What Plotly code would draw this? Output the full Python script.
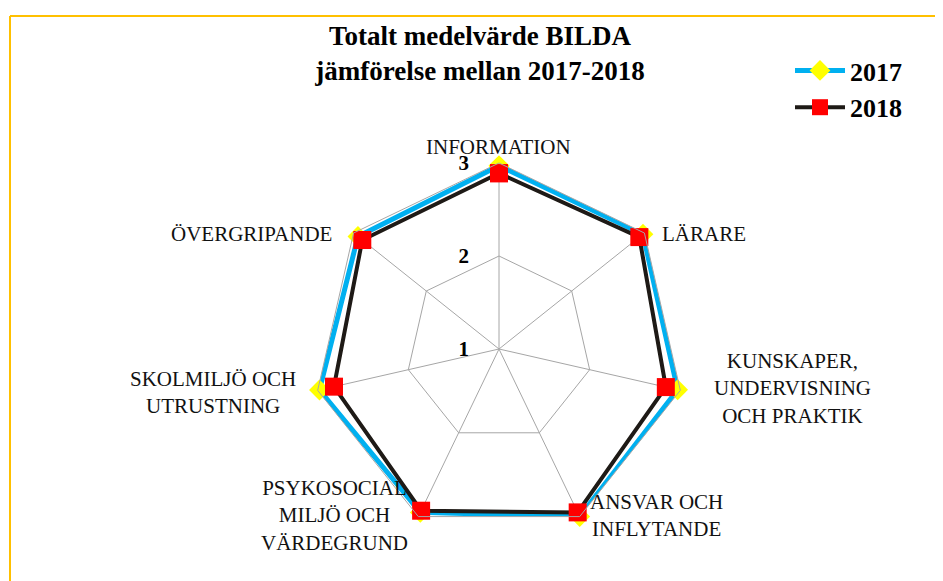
import plotly.graph_objects as go

# --- Data ---
categories = [
    "INFORMATION",
    "LÄRARE",
    "KUNSKAPER,<br>UNDERVISNING<br>OCH PRAKTIK",
    "ANSVAR OCH<br>INFLYTANDE",
    "PSYKOSOCIAL<br>MILJÖ OCH<br>VÄRDEGRUND",
    "SKOLMILJÖ OCH<br>UTRUSTNING",
    "ÖVERGRIPANDE",
]
values_2017 = [2.97, 2.98, 2.97, 3.0, 2.95, 2.98, 2.94]
values_2018 = [2.89, 2.93, 2.84, 2.95, 2.93, 2.82, 2.88]
radial_ticks = [1, 2, 3]

SERIF = "Liberation Serif, Times New Roman, serif"

# the page body has a small margin, so the figure is drawn a few px in from
# the window corner; size and positions are given relative to that origin
OX, OY = 8, 7
W, H = 943 - OX, 581 - OY


def px(x):
    return (x - OX) / W


def py(y):
    return 1 - (y - OY) / H


# polar centre / radius in window pixels
cx, cy, rad = 499, 348, 186

# category label placement (window px): x, y, xanchor
label_pos = [
    (498, 146, 'center'),
    (660, 233, 'left'),
    (712, 387, 'left'),
    (588, 514, 'left'),
    (410, 515, 'right'),
    (298, 391, 'right'),
    (334, 233, 'right'),
]


def closed(seq):
    return list(seq) + [seq[0]]


fig = go.Figure()

fig.add_trace(go.Scatterpolar(
    r=closed(values_2017),
    theta=closed(categories),
    mode='lines+markers',
    name='2017',
    line=dict(color='#00B0F0', width=5),
    marker=dict(symbol='diamond', color='#FFFF00', size=16),
))

fig.add_trace(go.Scatterpolar(
    r=closed(values_2018),
    theta=closed(categories),
    mode='lines+markers',
    name='2018',
    line=dict(color='#1E1A16', width=4),
    marker=dict(symbol='square', color='#FF0000', size=18),
))

annotations = []
for cat, (x, y, anchor) in zip(categories, label_pos):
    annotations.append(dict(
        text=cat, x=px(x), y=py(y), xref='paper', yref='paper',
        xanchor=anchor, yanchor='middle', align='center', showarrow=False,
        font=dict(family=SERIF, size=21, color='#111111'),
    ))

fig.update_layout(
    width=W, height=H,
    paper_bgcolor='white',
    plot_bgcolor='white',
    margin=dict(l=0, r=0, t=0, b=0),
    title=dict(
        text='<b>Totalt medelvärde BILDA<br>jämförelse mellan 2017-2018</b>',
        x=px(480), xanchor='center',
        y=py(44), yanchor='top',
        font=dict(family=SERIF, size=27, color='black'),
    ),
    legend=dict(
        x=px(790), xanchor='left',
        y=py(46), yanchor='top',
        font=dict(family=SERIF, size=26, color='black', weight='bold'),
        bgcolor='rgba(0,0,0,0)',
        itemwidth=50,
        tracegroupgap=0,
    ),
    polar=dict(
        domain=dict(
            x=[px(cx - rad), px(cx + rad)],
            y=[py(cy + rad), py(cy - rad)],
        ),
        bgcolor='white',
        gridshape='linear',
        radialaxis=dict(
            range=[1, 3],
            tickvals=radial_ticks,
            ticktext=[f'<b>{t}</b>' + '\u00a0' * 5 for t in radial_ticks],
            angle=90,
            tickangle=90,
            side='counterclockwise',
            showline=False,
            ticks='',
            gridcolor='#A6A6A6',
            gridwidth=1,
            tickfont=dict(family=SERIF, size=21, color='black'),
        ),
        angularaxis=dict(
            direction='clockwise',
            rotation=90,
            showline=True,
            linecolor='#A6A6A6',
            linewidth=1,
            gridcolor='#A6A6A6',
            gridwidth=1,
            ticks='',
            showticklabels=False,
        ),
    ),
    annotations=annotations,
    shapes=[
        dict(type='line', xref='paper', yref='paper',
             x0=px(10), x1=1, y0=py(15), y1=py(15),
             line=dict(color='#FFC000', width=2)),
        dict(type='line', xref='paper', yref='paper',
             x0=px(10), x1=px(10), y0=0, y1=py(15),
             line=dict(color='#FFC000', width=2)),
    ],
)

fig.write_html("out.html")
